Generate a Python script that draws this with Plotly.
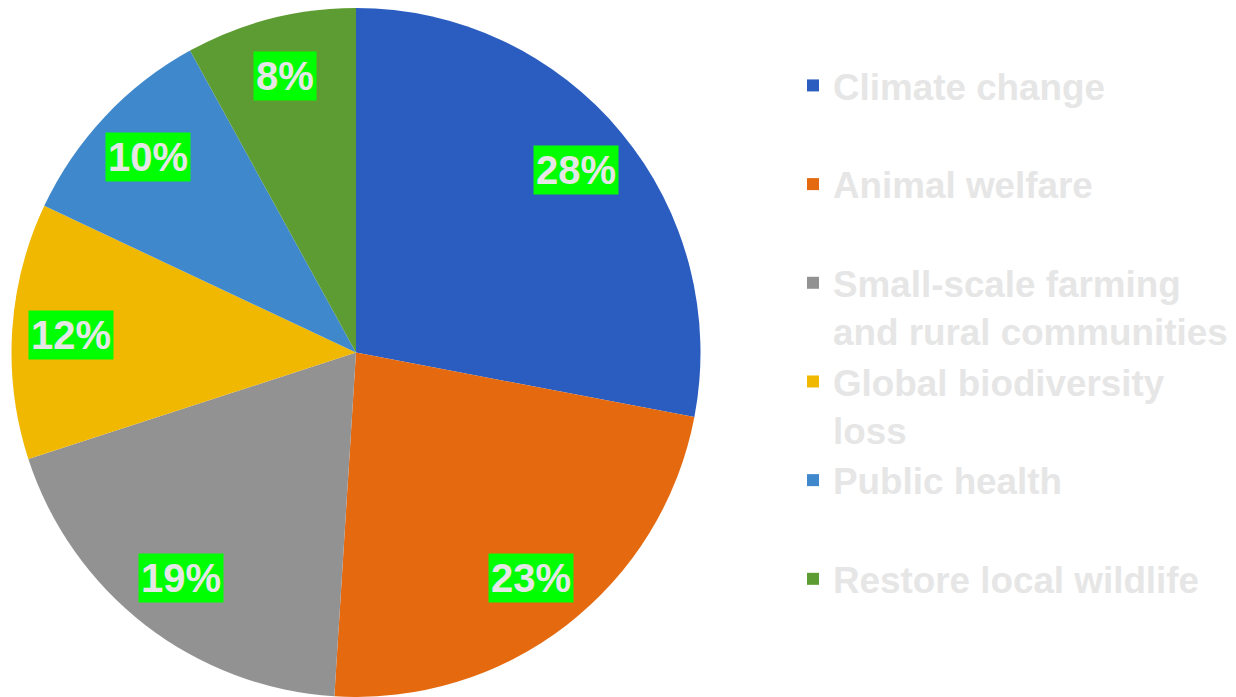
import math
import plotly.graph_objects as go

# Survey shares by motivation
categories = [
    "Climate change",
    "Animal welfare",
    "Small-scale farming<br>and rural communities",
    "Global biodiversity<br>loss",
    "Public health",
    "Restore local wildlife",
]
shares = [28, 23, 19, 12, 10, 8]
slice_colors = ["#2a5dbf", "#e4690f", "#929292", "#f0b800", "#3f88cc", "#5c9c32"]

W, H = 1236, 697
# pie placement (pixels): centre and radius
CX, CY, R = 356, 352.5, 344.5
LABEL_R = 0.83

# give every legend entry the same two-line height
legend_labels = [c if "<br>" in c else c + "<br> " for c in categories]

fig = go.Figure(
    go.Pie(
        labels=legend_labels,
        values=shares,
        sort=False,
        direction="clockwise",
        rotation=0,
        textinfo="none",
        hoverinfo="label+percent",
        marker=dict(colors=slice_colors, line=dict(width=0)),
        domain=dict(x=[(CX - R) / W, (CX + R) / W], y=[0, 2 * R / H]),
    )
)

# percentage labels with green boxes, placed at each slice's mid-angle
total = sum(shares)
cum = 0
for v in shares:
    mid = (cum + v / 2) / total * 2 * math.pi
    cum += v
    px = CX + LABEL_R * R * math.sin(mid)
    py = CY - LABEL_R * R * math.cos(mid)
    fig.add_annotation(
        x=px / W, y=1 - py / H, xref="paper", yref="paper",
        text=f"{round(v / total * 100)}%", showarrow=False,
        font=dict(family="Liberation Sans, Arial, sans-serif", size=40,
                  color="#e6e6e6", weight="bold"),
        bgcolor="#00ff00", borderpad=2,
        xanchor="center", yanchor="middle",
    )

fig.update_layout(
    width=W, height=H,
    margin=dict(l=0, r=0, t=0, b=0),
    paper_bgcolor="white",
    plot_bgcolor="white",
    showlegend=True,
    legend=dict(
        x=793 / W, y=1 - 55 / H, xanchor="left", yanchor="top",
        valign="top",
        font=dict(family="Liberation Sans, Arial, sans-serif", size=36.8,
                  color="#e6e6e6", weight="bold"),
        bgcolor="rgba(0,0,0,0)", borderwidth=0,
        tracegroupgap=0,
    ),
)

fig.write_html("out.html")
